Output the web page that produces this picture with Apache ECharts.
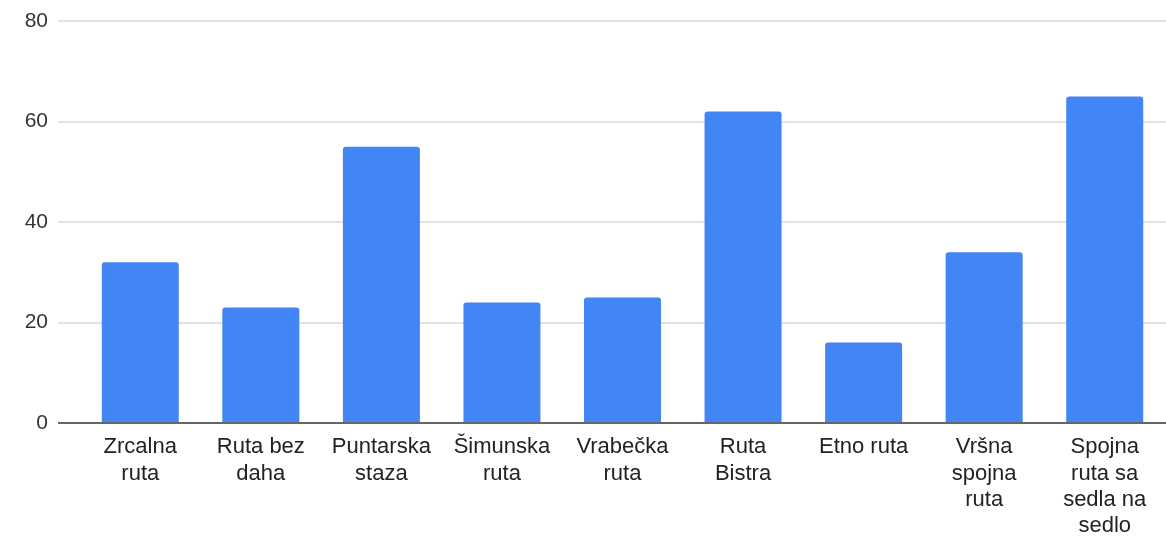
<!DOCTYPE html>
<html>
<head>
<meta charset="utf-8">
<script src="https://cdn.jsdelivr.net/npm/echarts@6/dist/echarts.min.js"></script>
<style>html,body{margin:0;padding:0;background:#fff}#c{width:1166px;height:536px}</style>
</head>
<body>
<div id="c"></div>
<script>
const categories = ["Zrcalna ruta","Ruta bez daha","Puntarska staza","Šimunska ruta","Vrabečka ruta","Ruta Bistra","Etno ruta","Vršna spojna ruta","Spojna ruta sa sedla na sedlo"];
const wrappedLabels = ["Zrcalna\nruta","Ruta bez\ndaha","Puntarska\nstaza","Šimunska\nruta","Vrabečka\nruta","Ruta\nBistra","Etno ruta","Vršna\nspojna\nruta","Spojna\nruta sa\nsedla na\nsedlo"];
const values = [32, 23, 55, 24, 25, 62, 16, 34, 65];
const yTicks = [0, 20, 40, 60, 80];

const chart = echarts.init(document.getElementById('c'));
const font = 'Arial, "Liberation Sans", sans-serif';
chart.setOption({
  animation: false,
  grid: [
    {left: 58, right: 0, top: 21, bottom: 113, outerBoundsMode: 'none', containLabel: false},
    {left: 80, right: 1, top: 21, bottom: 113, outerBoundsMode: 'none', containLabel: false}
  ],
  xAxis: [
    {gridIndex: 0, type: 'category', data: categories, show: false},
    {gridIndex: 1, type: 'category', data: categories,
     axisLine: {show: false}, axisTick: {show: false},
     axisLabel: {interval: 0, margin: 11, color: '#222', fontSize: 22, lineHeight: 26.3, fontFamily: font,
       formatter: (v, i) => wrappedLabels[i]}}
  ],
  yAxis: [
    {gridIndex: 0, type: 'value', min: yTicks[0], max: yTicks[yTicks.length-1], interval: 20,
     axisLine: {show: false}, axisTick: {show: false},
     axisLabel: {color: '#333', fontSize: 21, margin: 10, fontFamily: font},
     splitLine: {lineStyle: {color: '#d9d9d9', width: 1.5}}},
    {gridIndex: 1, type: 'value', min: 0, max: 80, interval: 20, show: false, splitLine: {show: false}}
  ],
  series: [
    {type: 'bar', xAxisIndex: 1, yAxisIndex: 1, data: values, barWidth: 77,
     itemStyle: {color: '#4285F4', borderRadius: [3, 3, 0, 0]}},
    {type: 'line', xAxisIndex: 0, yAxisIndex: 0, data: [], silent: true,
     markLine: {symbol: 'none', silent: true, label: {show: false},
       lineStyle: {color: '#666', width: 2, type: 'solid'}, data: [{yAxis: 0}]}}
  ]
});
</script>
</body>
</html>
